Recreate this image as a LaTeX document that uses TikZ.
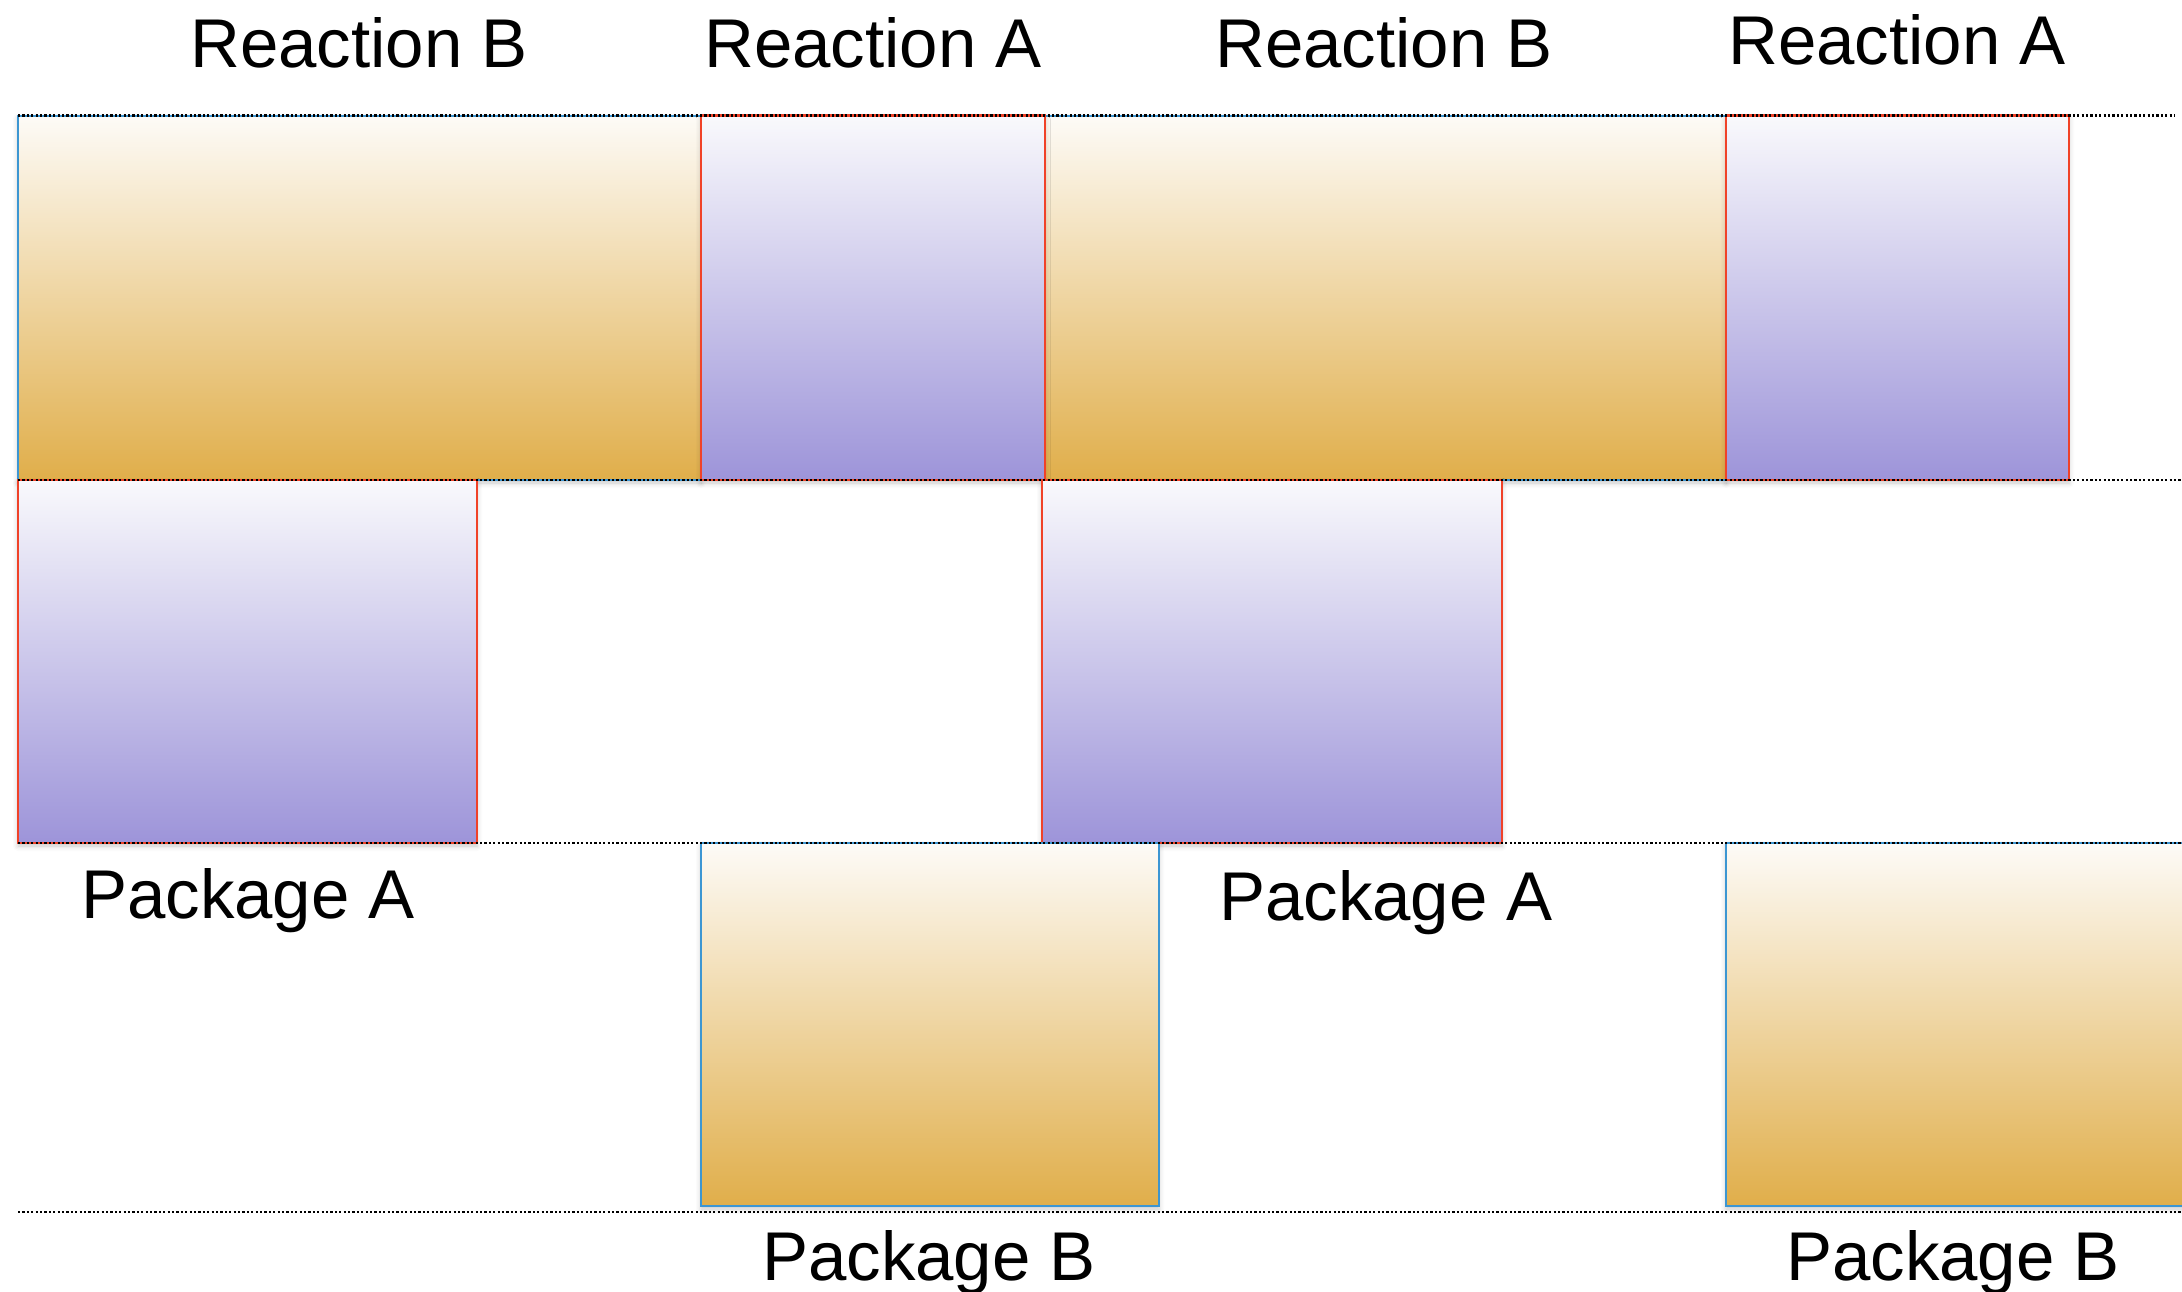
\documentclass[tikz,border=0pt]{standalone}
\usepackage{fontspec}
\setmainfont{Liberation Sans}
\usetikzlibrary{shadows.blur}

% fills and edges of the two kinds of block
\definecolor{ochreTop}{HTML}{FDFBF7}
\definecolor{ochreBot}{HTML}{E0AE4A}
\definecolor{lilacTop}{HTML}{F9F9FC}
\definecolor{lilacBot}{HTML}{9D94D9}
\definecolor{edgeBlue}{HTML}{3C96D2}
\definecolor{edgeRed}{HTML}{F04228}

\begin{document}
\begin{tikzpicture}[x=1pt,y=-1pt,
  lbl/.style={anchor=base, inner sep=0pt, font=\fontsize{69}{83}\selectfont},
  cell/.style={anchor=north west, rectangle, inner sep=0pt, outer sep=0pt,
    blur shadow={shadow xshift=0pt, shadow yshift=-3pt,
      shadow blur radius=5pt, shadow opacity=22}},
  blockB/.style={cell, draw=edgeBlue, line width=2pt,
    top color=ochreTop, bottom color=ochreBot},
  blockA/.style={cell, draw=edgeRed, line width=2.4pt,
    top color=lilacTop, bottom color=lilacBot},
  guide/.style={line width=2.4pt, dash pattern=on 2.2pt off 2.2pt}
]
\useasboundingbox (0,0) rectangle (2182,1291);

% row 1: reactions (B blocks first, A blocks lie over their edges)
\node[blockB, minimum width=683pt, minimum height=364.5pt] (rb1) at (18,115.5) {};
\node[blockB, minimum width=681pt, minimum height=364.5pt] (rb2) at (1045,115.5) {};
\node[blockA, minimum width=344pt, minimum height=364.5pt] (ra1) at (701,115.5) {};
\node[blockA, minimum width=343pt, minimum height=364.5pt] (ra2) at (1726,115.5) {};

% row 2: package A
\node[blockA, minimum width=459pt, minimum height=363pt] (pa1) at (18,480) {};
\node[blockA, minimum width=460pt, minimum height=363pt] (pa2) at (1042,480) {};

% row 3: package B
\node[blockB, minimum width=458pt, minimum height=363pt] (pb1) at (701,843) {};
\node[blockB, minimum width=464pt, minimum height=363pt] (pb2) at (1726,843) {};

% dotted row guides
\coordinate (g1l) at (18,115.5);  \coordinate (g1r) at (2175,115.5);
\coordinate (g2l) at (18,480);    \coordinate (g2r) at (2182,480);
\coordinate (g3l) at (18,843);    \coordinate (g3r) at (2182,843);
\coordinate (g4l) at (18,1212);   \coordinate (g4r) at (2182,1212);
\draw[guide] (g1l) -- (g1r);
\draw[guide] (g2l) -- (g2r);
\draw[guide] (g3l) -- (g3r);
\draw[guide] (g4l) -- (g4r);

% labels
\node[lbl] (t1) at (359,67) {Reaction B};
\node[lbl] (t2) at (873,67) {Reaction A};
\node[lbl] (t3) at (1384,67) {Reaction B};
\node[lbl] (t4) at (1897,64) {Reaction A};
\node[lbl] (l1) at (248,918) {Package A};
\node[lbl] (l2) at (1386,920) {Package A};
\node[lbl] (l3) at (929,1280) {Package B};
\node[lbl] (l4) at (1953,1280) {Package B};
\end{tikzpicture}
\end{document}
